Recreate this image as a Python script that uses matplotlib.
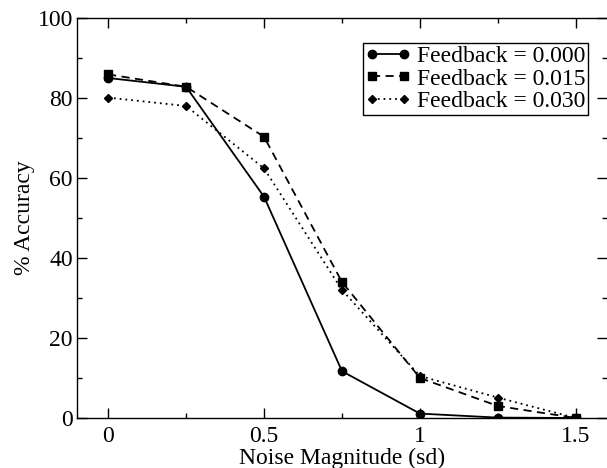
import matplotlib
matplotlib.use("Agg")
import matplotlib.pyplot as plt
from matplotlib.ticker import MultipleLocator

plt.rcParams['font.family'] = ['Liberation Serif', 'DejaVu Serif']
plt.rcParams['font.size'] = 17

noise = [0.0, 0.25, 0.5, 0.75, 1.0, 1.25, 1.5]
acc_000 = [85.0, 82.8, 55.3, 11.7, 1.1, 0.1, 0.0]
acc_015 = [85.9, 82.8, 70.3, 34.0, 10.0, 3.0, 0.0]
acc_030 = [80.1, 78.0, 62.4, 32.0, 10.5, 5.1, 0.0]
labels = ["Feedback = 0.000", "Feedback = 0.015", "Feedback = 0.030"]

fig = plt.figure(figsize=(6.07, 4.68), dpi=100)
ax = fig.add_axes([77/607, 1-418/468, 1-77/607, 400/468])

ax.plot(noise, acc_000, color="black", lw=1.3, ls="-", marker="o", ms=6, label=labels[0])
ax.plot(noise, acc_015, color="black", lw=1.3, ls=(0, (4.5, 3)), marker="s", ms=5.5, label=labels[1])
ax.plot(noise, acc_030, color="black", lw=1.3, ls=(0, (1, 2.2)), marker="D", ms=4.5, label=labels[2])

ax.set_xlim(-0.1, 1.6)
ax.set_ylim(0, 100)
ax.xaxis.set_major_locator(MultipleLocator(0.5))
ax.xaxis.set_minor_locator(MultipleLocator(0.25))
ax.yaxis.set_major_locator(MultipleLocator(20))
ax.yaxis.set_minor_locator(MultipleLocator(10))
ax.set_xticks([0, 0.5, 1, 1.5])
ax.set_xticklabels(["0", "0.5", "1", "1.5"])
ax.tick_params(which="both", direction="in", top=True, right=True, width=1)
ax.tick_params(axis="x", which="major", length=7.2, pad=6)
ax.tick_params(axis="y", which="major", length=7.2, pad=3)
ax.tick_params(which="minor", length=3.6)
ax.spines['right'].set_visible(False)
for s in ['left', 'bottom', 'top']:
    ax.spines[s].set_linewidth(1)

ax.set_xlabel("Noise Magnitude (sd)", labelpad=0)
ax.set_ylabel("% Accuracy", labelpad=2)

leg = ax.legend(loc="upper right", numpoints=2, handlelength=1.95, handletextpad=0.25,
                labelspacing=0.05, borderpad=0.1, borderaxespad=0.0, fancybox=False,
                framealpha=1, edgecolor="black", bbox_to_anchor=(0.964, 0.9375))
leg.get_frame().set_linewidth(1)

plt.savefig("out.png", dpi=100)
